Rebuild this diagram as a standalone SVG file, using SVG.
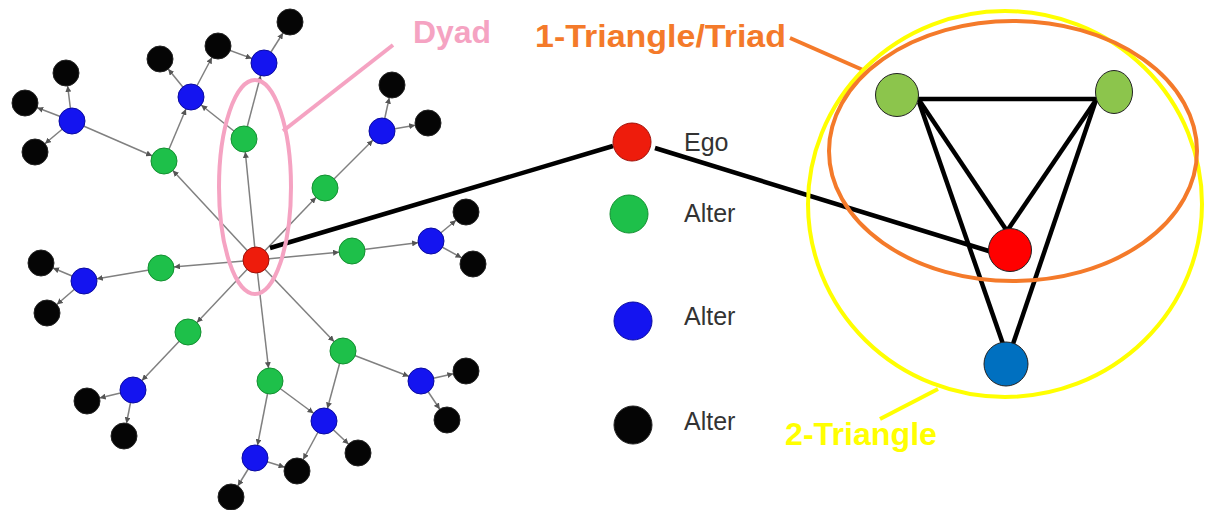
<svg xmlns="http://www.w3.org/2000/svg" width="1207" height="510" viewBox="0 0 1207 510">
<defs>
<marker id="arr" markerUnits="userSpaceOnUse" markerWidth="8" markerHeight="6" refX="19" refY="3" orient="auto">
<path d="M0,0 L6,3 L0,6 z" fill="#555"/>
</marker>
<style>
.e{stroke:#808080;stroke-width:1.5;fill:none;marker-end:url(#arr)}
.g{fill:#1ec04a;stroke:#129030;stroke-width:1}
.b{fill:#1414f0;stroke:#0a0aa0;stroke-width:1}
.k{fill:#050505;stroke:#222;stroke-width:1}
.r{fill:#ee1c0c;stroke:#a01008;stroke-width:1}
.lbl{font-family:"Liberation Sans",Arial,sans-serif;font-size:25px;fill:#333}
.tag{font-family:"Liberation Sans",Arial,sans-serif;font-size:31px;font-weight:bold}
.tl{stroke:#000;stroke-width:4.5;fill:none}
</style>
</defs>
<rect width="1207" height="510" fill="#fff"/>

<g id="connectors">
<line class="e" x1="256" y1="260" x2="244" y2="139"/>
<line class="e" x1="256" y1="260" x2="164" y2="161"/>
<line class="e" x1="256" y1="260" x2="325" y2="188"/>
<line class="e" x1="256" y1="260" x2="352" y2="251"/>
<line class="e" x1="256" y1="260" x2="161" y2="268"/>
<line class="e" x1="256" y1="260" x2="188" y2="332"/>
<line class="e" x1="256" y1="260" x2="270" y2="381"/>
<line class="e" x1="256" y1="260" x2="343" y2="351"/>
<line class="e" x1="244" y1="139" x2="264" y2="63"/>
<line class="e" x1="244" y1="139" x2="191" y2="97"/>
<line class="e" x1="164" y1="161" x2="191" y2="97"/>
<line class="e" x1="72" y1="121" x2="164" y2="161"/>
<line class="e" x1="325" y1="188" x2="382" y2="131"/>
<line class="e" x1="352" y1="251" x2="431" y2="241"/>
<line class="e" x1="161" y1="268" x2="84" y2="281"/>
<line class="e" x1="188" y1="332" x2="133" y2="390"/>
<line class="e" x1="270" y1="381" x2="255" y2="458"/>
<line class="e" x1="270" y1="381" x2="324" y2="421"/>
<line class="e" x1="343" y1="351" x2="324" y2="421"/>
<line class="e" x1="343" y1="351" x2="421" y2="381"/>
<line class="e" x1="72" y1="121" x2="66" y2="73"/>
<line class="e" x1="72" y1="121" x2="25" y2="103"/>
<line class="e" x1="72" y1="121" x2="35" y2="152"/>
<line class="e" x1="191" y1="97" x2="160" y2="59"/>
<line class="e" x1="191" y1="97" x2="218" y2="46"/>
<line class="e" x1="218" y1="46" x2="264" y2="63"/>
<line class="e" x1="264" y1="63" x2="290" y2="22"/>
<line class="e" x1="382" y1="131" x2="392" y2="85"/>
<line class="e" x1="382" y1="131" x2="428" y2="123"/>
<line class="e" x1="431" y1="241" x2="466" y2="212"/>
<line class="e" x1="431" y1="241" x2="473" y2="264"/>
<line class="e" x1="84" y1="281" x2="41" y2="263"/>
<line class="e" x1="84" y1="281" x2="47" y2="313"/>
<line class="e" x1="133" y1="390" x2="87" y2="401"/>
<line class="e" x1="133" y1="390" x2="124" y2="436"/>
<line class="e" x1="255" y1="458" x2="231" y2="497"/>
<line class="e" x1="255" y1="458" x2="297" y2="471"/>
<line class="e" x1="324" y1="421" x2="297" y2="471"/>
<line class="e" x1="324" y1="421" x2="358" y2="453"/>
<line class="e" x1="421" y1="381" x2="466" y2="371"/>
<line class="e" x1="421" y1="381" x2="447" y2="420"/>
<!-- ego links -->
<line class="tl" x1="270" y1="248" x2="613" y2="146"/>
<line class="tl" x1="655" y1="148" x2="992" y2="252"/>
<!-- triangle edges -->
<line class="tl" x1="918" y1="99" x2="1097" y2="99"/>
<line class="tl" x1="919" y1="100" x2="1007" y2="231"/>
<line class="tl" x1="919" y1="102" x2="1003" y2="344"/>
<line class="tl" x1="1096" y1="100" x2="1007" y2="231"/>
<line class="tl" x1="1096" y1="100" x2="1013" y2="344"/>
<!-- label leaders -->
<line x1="283" y1="131" x2="393" y2="45" stroke="#f5a3c2" stroke-width="4"/>
<line x1="790" y1="38" x2="863" y2="70" stroke="#f47a2a" stroke-width="4"/>
<line x1="880" y1="419" x2="938" y2="389" stroke="#ffff00" stroke-width="4"/>
</g>

<g id="network-nodes">
<circle class="k" cx="66" cy="73" r="13"/>
<circle class="k" cx="25" cy="103" r="13"/>
<circle class="k" cx="35" cy="152" r="13"/>
<circle class="k" cx="160" cy="59" r="13"/>
<circle class="k" cx="218" cy="46" r="13"/>
<circle class="k" cx="290" cy="22" r="13"/>
<circle class="k" cx="392" cy="85" r="13"/>
<circle class="k" cx="428" cy="123" r="13"/>
<circle class="k" cx="466" cy="212" r="13"/>
<circle class="k" cx="473" cy="264" r="13"/>
<circle class="k" cx="41" cy="263" r="13"/>
<circle class="k" cx="47" cy="313" r="13"/>
<circle class="k" cx="87" cy="401" r="13"/>
<circle class="k" cx="124" cy="436" r="13"/>
<circle class="k" cx="231" cy="497" r="13"/>
<circle class="k" cx="297" cy="471" r="13"/>
<circle class="k" cx="358" cy="453" r="13"/>
<circle class="k" cx="466" cy="371" r="13"/>
<circle class="k" cx="447" cy="420" r="13"/>
<circle class="b" cx="72" cy="121" r="13"/>
<circle class="b" cx="191" cy="97" r="13"/>
<circle class="b" cx="264" cy="63" r="13"/>
<circle class="b" cx="382" cy="131" r="13"/>
<circle class="b" cx="431" cy="241" r="13"/>
<circle class="b" cx="84" cy="281" r="13"/>
<circle class="b" cx="133" cy="390" r="13"/>
<circle class="b" cx="255" cy="458" r="13"/>
<circle class="b" cx="324" cy="421" r="13"/>
<circle class="b" cx="421" cy="381" r="13"/>
<circle class="g" cx="244" cy="139" r="13"/>
<circle class="g" cx="164" cy="161" r="13"/>
<circle class="g" cx="325" cy="188" r="13"/>
<circle class="g" cx="352" cy="251" r="13"/>
<circle class="g" cx="161" cy="268" r="13"/>
<circle class="g" cx="188" cy="332" r="13"/>
<circle class="g" cx="270" cy="381" r="13"/>
<circle class="g" cx="343" cy="351" r="13"/>
<circle class="r" cx="256" cy="260" r="13"/>
</g>

<g id="dyad">
<ellipse cx="255" cy="187" rx="36" ry="107" fill="none" stroke="#f5a3c2" stroke-width="4"/>
<text class="tag" x="413" y="43" fill="#f5a3c2" textLength="78" lengthAdjust="spacingAndGlyphs">Dyad</text>
</g>

<g id="legend">
<circle class="r" cx="632" cy="142" r="19"/>
<text class="lbl" x="684" y="151">Ego</text>
<circle class="g" cx="629" cy="214" r="19"/>
<text class="lbl" x="684" y="222">Alter</text>
<circle class="b" cx="633" cy="321" r="19"/>
<text class="lbl" x="684" y="325">Alter</text>
<circle class="k" cx="633" cy="425" r="19"/>
<text class="lbl" x="684" y="430">Alter</text>
</g>

<g id="triad">
<ellipse cx="1005" cy="204" rx="197" ry="193" fill="none" stroke="#ffff00" stroke-width="4"/>
<ellipse cx="1013" cy="151" rx="184" ry="130" fill="none" stroke="#f47a2a" stroke-width="4"/>
<circle cx="897" cy="95" r="21.5" fill="#8cc54c" stroke="#222" stroke-width="1"/>
<ellipse cx="1114" cy="92" rx="18.5" ry="21.5" fill="#8cc54c" stroke="#222" stroke-width="1"/>
<circle cx="1010" cy="250" r="21.5" fill="#ff0000" stroke="#222" stroke-width="1"/>
<circle cx="1006" cy="364" r="22" fill="#0070c0" stroke="#222" stroke-width="1"/>
</g>

<g id="labels">
<text class="tag" x="535" y="47" fill="#f47a2a" textLength="251" lengthAdjust="spacingAndGlyphs">1-Triangle/Triad</text>
<text class="tag" x="785" y="445" fill="#ffff00" textLength="152" lengthAdjust="spacingAndGlyphs">2-Triangle</text>
</g>
</svg>
